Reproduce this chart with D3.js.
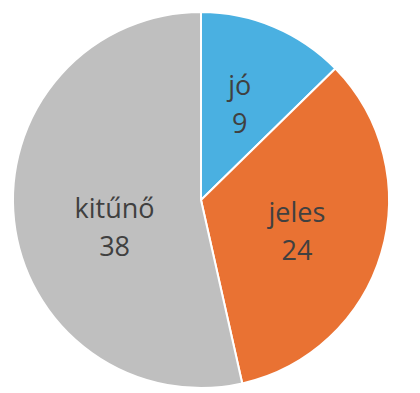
<!DOCTYPE html>
<html>
<head>
<meta charset="utf-8">
<script src="https://cdn.jsdelivr.net/npm/d3@7"></script>
<style>
  body { margin: 0; background: #fff; }
  svg { display: block; }
</style>
</head>
<body>
<svg></svg>
<script>
const grades = ["jó", "jeles", "kitűnő"];
const counts = [9, 24, 38];
const colors = ["#4AB0E1", "#E97233", "#BFBFBF"];

const width = 420;
const height = 393;
const cx = 201;
const cy = 200;
const radius = 188;
const labelRadius = 100;
// small nudges so labels sit where the original placed them
const labelNudge = [[0, 6], [0, 13], [13, 26]];

const svg = d3.select("svg").attr("width", width).attr("height", height);

const pie = d3.pie().sort(null).value((d) => d.value);
const arc = d3.arc().innerRadius(0).outerRadius(radius);
const labelArc = d3.arc().innerRadius(labelRadius).outerRadius(labelRadius);

const slices = pie(grades.map((g, i) => ({ name: g, value: counts[i] })));

const g = svg.append("g").attr("transform", `translate(${cx},${cy})`);

g.selectAll("path")
  .data(slices)
  .enter()
  .append("path")
  .attr("d", arc)
  .attr("fill", (d, i) => colors[i])
  .attr("stroke", "#fff")
  .attr("stroke-width", 2)
  .attr("stroke-linejoin", "round");

const labels = g.selectAll("text")
  .data(slices)
  .enter()
  .append("text")
  .attr("transform", (d, i) => {
    const [x, y] = labelArc.centroid(d);
    return `translate(${x + labelNudge[i][0]},${y + labelNudge[i][1]})`;
  })
  .attr("text-anchor", "middle")
  .attr("font-family", "'Open Sans', sans-serif")
  .attr("font-size", "27px")
  .attr("fill", "#404040");

labels.append("tspan").attr("x", 0).attr("y", -19).text((d) => d.data.name);
labels.append("tspan").attr("x", 0).attr("y", 19).text((d) => d.data.value);
</script>
</body>
</html>
